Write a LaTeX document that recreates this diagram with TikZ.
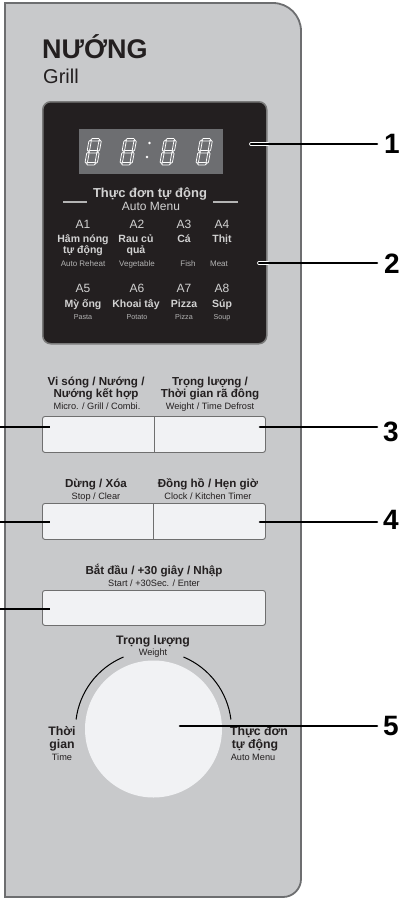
\documentclass[tikz,border=0pt]{standalone}
\usepackage{fontspec}
\setmainfont{Liberation Sans}
\usetikzlibrary{calc}
\definecolor{panel}{HTML}{C8C9CB}
\definecolor{panelline}{HTML}{6D6E70}
\definecolor{disp}{HTML}{231F20}
\definecolor{displine}{HTML}{7A7A7A}
\definecolor{lcd}{HTML}{6D6E71}
\definecolor{btnfill}{HTML}{F1F2F4}
\definecolor{btnline}{HTML}{6F6F6F}
\definecolor{ink}{HTML}{231F20}
\definecolor{dtext}{HTML}{D2D2D2}
\definecolor{dsmall}{HTML}{B4B4B4}
\newcommand\hsg[3]{\draw[segline] (#1+0.5,#3) -- (#1+1.7,#3+1.2) -- (#2-1.7,#3+1.2) -- (#2-0.5,#3) -- (#2-1.7,#3-1.2) -- (#1+1.7,#3-1.2) -- cycle;}
\newcommand\vsg[3]{\draw[segline] (#1,#2+0.5) -- (#1+1.2,#2+1.7) -- (#1+1.2,#3-1.7) -- (#1,#3-0.5) -- (#1-1.2,#3-1.7) -- (#1-1.2,#2+1.7) -- cycle;}
\newcommand\segdigit[2]{%
  \begin{scope}[shift={(#1,#2)}, x=1pt, y=1pt, xslant=0.18]
    \hsg{0}{10}{0}\hsg{0}{10}{12}\hsg{0}{10}{24}
    \vsg{0}{0}{12}\vsg{0}{12}{24}\vsg{10}{0}{12}\vsg{10}{12}{24}
  \end{scope}}
\begin{document}
\begin{tikzpicture}[x=1pt,y=-1pt,
  segline/.style={draw=white, line width=0.75pt, line join=round},
  txt/.style={inner sep=0pt, anchor=base, text=ink},
  bb/.style={txt, font=\fontsize{11.6}{12}\selectfont\bfseries},
  ss/.style={txt, font=\fontsize{9.2}{10}\selectfont},
  dhead/.style={txt, text=dtext, font=\fontsize{13}{14}\selectfont\bfseries},
  dsub/.style={txt, text=dtext, font=\fontsize{12}{13}\selectfont},
  acode/.style={txt, text=dtext, font=\fontsize{12}{13}\selectfont},
  aname/.style={txt, text=dtext, font=\fontsize{10.5}{11}\selectfont\bfseries},
  aeng/.style={txt, text=dsmall, font=\fontsize{8}{9}\selectfont},
  aengs/.style={txt, text=dsmall, font=\fontsize{7.2}{8}\selectfont},
  btn/.style={draw=btnline, line width=0.9pt, fill=btnfill, rounded corners=2.5pt, minimum width=223pt, minimum height=36pt, anchor=north west, inner sep=0pt},
  numl/.style={inner sep=0pt, anchor=west, text=black, font=\fontsize{28}{28}\selectfont\bfseries},
  leader/.style={draw=black, line width=2.6pt, line cap=round},
  halo/.style={draw=white, line width=3.8pt, line cap=round},
  sideline/.style={draw=dsmall, line width=1.4pt}
]
\useasboundingbox (0,0) rectangle (403,899);
% panel
\draw[fill=panel, draw=panelline, line width=1.8pt]
  (5,897) -- (5,3) -- (273,3) arc[start angle=-90, end angle=0, radius=28]
  -- (301,879) arc[start angle=0, end angle=90, radius=18] -- cycle;
\node[txt, anchor=base west, font=\fontsize{27}{28}\selectfont\bfseries] (title) at (42,59) {NƯỚNG};
\node[txt, anchor=base west, font=\fontsize{20}{21}\selectfont] (grill) at (43,84) {Grill};
% display
\node[draw=displine, line width=1.5pt, fill=disp, rounded corners=8pt, minimum width=224pt, minimum height=242pt, anchor=north west, inner sep=0pt] (disp) at (42,101) {};
\node[fill=lcd, minimum width=144pt, minimum height=45pt, anchor=north west, inner sep=0pt] (lcd) at (79,129) {};
\segdigit{86}{163.8}
\segdigit{121}{163.8}
\segdigit{161}{163.8}
\segdigit{197}{163.8}
\fill[white] (149.5,143) circle (1.3) (147,157) circle (1.3);
\node[dhead] (head) at (150,197) {Thực đơn tự động};
\node[dsub] (headsub) at (151,210) {Auto Menu};
\draw[sideline] (63,202) -- (87,202);
\draw[sideline] (213,202) -- (238,202);
% menu row 1
\node[acode] (a1) at (83,228) {A1};
\node[acode] (a2) at (137,228) {A2};
\node[acode] (a3) at (184,228) {A3};
\node[acode] (a4) at (222,228) {A4};
\node[aname] (a1n) at (83,242) {Hâm nóng};
\node[aname] (a1m) at (83,253) {tự động};
\node[aname] (a2n) at (136,242) {Rau củ};
\node[aname] (a2m) at (136,253) {quả};
\node[aname] (a3n) at (184,242) {Cá};
\node[aname] (a4n) at (222,242) {Thịt};
\node[aeng] (a1e) at (83,266) {Auto Reheat};
\node[aeng] (a2e) at (137,266) {Vegetable};
\node[aeng] (a3e) at (188,266) {Fish};
\node[aeng] (a4e) at (219,266) {Meat};
% menu row 2
\node[acode] (a5) at (83,292) {A5};
\node[acode] (a6) at (137,292) {A6};
\node[acode] (a7) at (184,292) {A7};
\node[acode] (a8) at (222,292) {A8};
\node[aname] (a5n) at (83,307) {Mỳ ống};
\node[aname] (a6n) at (136,307) {Khoai tây};
\node[aname] (a7n) at (184,307) {Pizza};
\node[aname] (a8n) at (222,307) {Súp};
\node[aengs] (a5e) at (83,319) {Pasta};
\node[aengs] (a6e) at (137,319) {Potato};
\node[aengs] (a7e) at (184,319) {Pizza};
\node[aengs] (a8e) at (222,319) {Soup};
% buttons row 3
\node[bb] (b3lt1) at (96,385) {Vi sóng / Nướng /};
\node[bb] (b3lt2) at (96,397) {Nướng kết hợp};
\node[ss] (b3le) at (97,409) {Micro. / Grill / Combi.};
\node[bb] (b3rt1) at (210,385) {Trọng lượng /};
\node[bb] (b3rt2) at (210,397) {Thời gian rã đông};
\node[ss] (b3re) at (210,409) {Weight / Time Defrost};
\node[btn] (b3) at (42,416) {};
\draw[draw=btnline, line width=0.9pt] (154,416) -- (154,452);
% buttons row 4
\node[bb] (b4lt) at (96,487) {Dừng / Xóa};
\node[ss] (b4le) at (96,499) {Stop / Clear};
\node[bb] (b4rt) at (208,487) {Đồng hồ / Hẹn giờ};
\node[ss] (b4re) at (208,499) {Clock / Kitchen Timer};
\node[btn] (b4) at (42,503) {};
\draw[draw=btnline, line width=0.9pt] (153,503) -- (153,539);
% start button
\node[bb] (b5t) at (154,574) {Bắt đầu / +30 giây / Nhập};
\node[ss] (b5e) at (154,586) {Start / +30Sec. / Enter};
\node[btn, minimum height=35pt] (b5) at (42,590) {};
% dial
\node[bb, font=\fontsize{12.3}{13}\selectfont\bfseries] (dw) at (153,644) {Trọng lượng};
\node[ss] (dwe) at (153,655) {Weight};
\node[circle, fill=btnfill, minimum size=137pt, inner sep=0pt] (dial) at (153.5,729) {};
\draw[black, line width=1pt] (153.5,729) ++(187:78) arc[start angle=187, end angle=247.4, radius=78];
\draw[black, line width=1pt] (153.5,729) ++(292.6:78) arc[start angle=292.6, end angle=353, radius=78];
\node[bb, font=\fontsize{12.3}{13}\selectfont\bfseries] (tl1) at (62,735) {Thời};
\node[bb, font=\fontsize{12.3}{13}\selectfont\bfseries] (tl2) at (62,748) {gian};
\node[ss] (tl3) at (62,760) {Time};
\node[bb, font=\fontsize{12.3}{13}\selectfont\bfseries] (tr1) at (259,735) {Thực đơn};
\node[bb, font=\fontsize{12.3}{13}\selectfont\bfseries] (tr2) at (255,748) {tự động};
\node[ss] (tr3) at (253,760) {Auto Menu};
% number labels
\node[numl] (n1) at (384,144) {1};
\node[numl] (n2) at (384,264) {2};
\node[numl] (n3) at (383,432) {3};
\node[numl] (n4) at (383,520) {4};
\node[numl] (n5) at (383,726) {5};
\coordinate (p1) at (251,144);
\coordinate (p2) at (259,263);
\coordinate (p3) at (260,427);
\coordinate (p4) at (260,522);
\coordinate (p5) at (180,726);
\draw[halo] (p1) -- (p1 -| disp.east);
\draw[halo] (p2) -- (p2 -| disp.east);
\draw[leader] (p1) -- ($(p1 -| n1.west)+(-7,0)$);
\draw[leader] (p2) -- ($(p2 -| n2.west)+(-7,0)$);
\draw[leader] (p3) -- ($(p3 -| n3.west)+(-6,0)$);
\draw[leader] (p4) -- ($(p4 -| n4.west)+(-6,0)$);
\draw[leader] (p5) -- ($(p5 -| n5.west)+(-6,0)$);
\coordinate (q3) at (0,427);
\coordinate (q4) at (0,522);
\coordinate (q5) at (0,609);
\draw[leader, line cap=butt] (q3) -- ($(q3 -| b3.west)+(8,0)$);
\draw[leader, line cap=butt] (q4) -- ($(q4 -| b4.west)+(8,0)$);
\draw[leader, line cap=butt] (q5) -- ($(q5 -| b5.west)+(8,0)$);
\end{tikzpicture}
\end{document}
